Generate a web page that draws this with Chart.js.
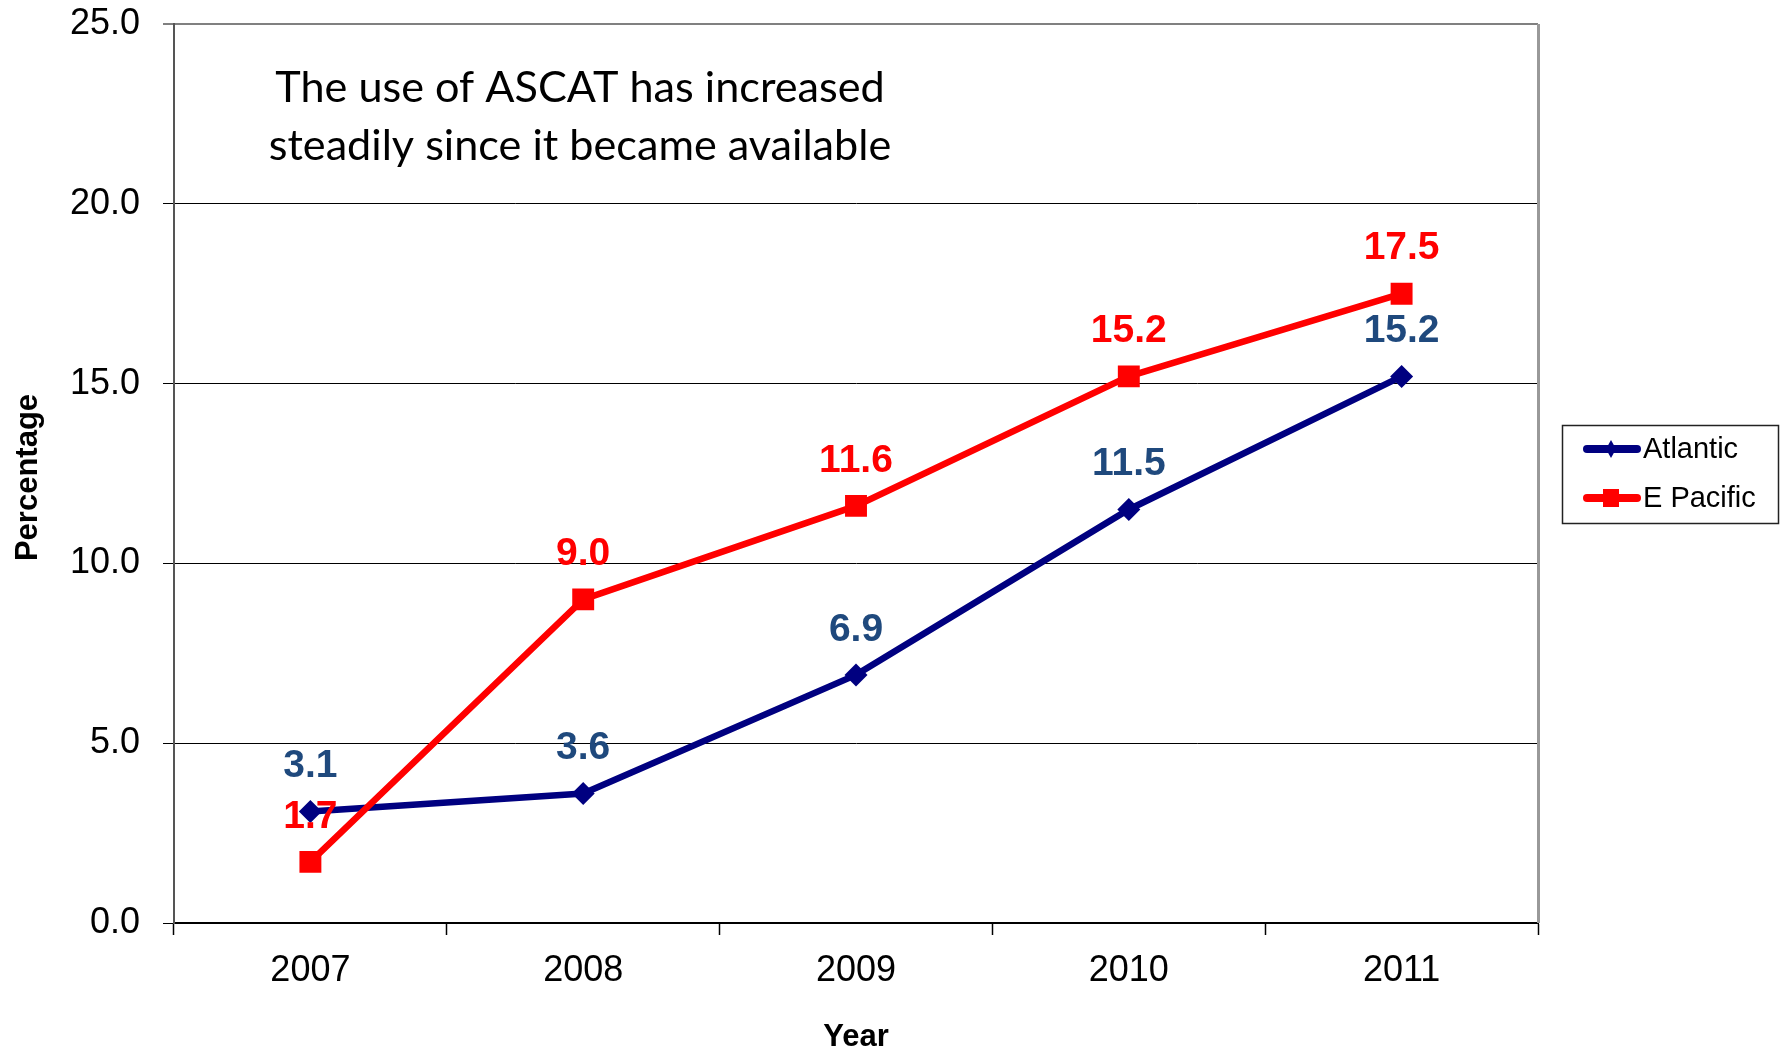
<!DOCTYPE html>
<html><head><meta charset="utf-8">
<script src="https://cdn.jsdelivr.net/npm/chart.js@4.4.0/dist/chart.umd.min.js"></script>
<style>html,body{margin:0;padding:0;background:#fff;overflow:hidden}</style>
</head><body>
<canvas id="c" width="1783" height="1049"></canvas>
<script>
const years = ['2007', '2008', '2009', '2010', '2011'];
const atlantic = [3.1, 3.6, 6.9, 11.5, 15.2];
const ePacific = [1.7, 9.0, 11.6, 15.2, 17.5];
const yTickValues = [0, 5, 10, 15, 20, 25];
const seriesNames = ['Atlantic', 'E Pacific'];
const annotationLines = ['The use of ASCAT has increased', 'steadily since it became available'];
const xTitle = 'Year';
const yTitle = 'Percentage';

const SANS = '"Liberation Sans", Arial, sans-serif';
const lineColors = ['#000080', '#FF0000'];
const labelColors = ['#1F497D', '#FF0000'];

const decor = {
  id: 'decor',
  afterDatasetsDraw(chart) {
    const ctx = chart.ctx;
    ctx.save();
    ctx.font = 'bold 39px ' + SANS;
    ctx.textAlign = 'center';
    ctx.textBaseline = 'middle';
    chart.data.datasets.forEach((ds, i) => {
      const meta = chart.getDatasetMeta(i);
      ctx.fillStyle = labelColors[i];
      meta.data.forEach((pt, j) => {
        ctx.fillText(ds.data[j].toFixed(1), pt.x, pt.y - 45);
      });
    });
    ctx.restore();
  },
  afterDraw(chart) {
    const ctx = chart.ctx;
    const a = chart.chartArea;
    ctx.save();
    // plot area right border
    ctx.strokeStyle = '#999999';
    ctx.lineWidth = 3;
    ctx.beginPath();
    ctx.moveTo(a.right + 0.5, a.top);
    ctx.lineTo(a.right + 0.5, a.bottom);
    ctx.stroke();

    // annotation text
    ctx.fillStyle = '#000';
    ctx.textAlign = 'center';
    ctx.textBaseline = 'alphabetic';
    ctx.font = '100px Lato, "Open Sans", sans-serif';
    const w1 = ctx.measureText(annotationLines[0]).width;
    const size = 100 * 610 / w1;
    ctx.font = size.toFixed(1) + 'px Lato, "Open Sans", sans-serif';
    ctx.fillText(annotationLines[0], 580, 102);
    ctx.fillText(annotationLines[1], 580, 160);

    // axis titles
    ctx.font = 'bold 31px ' + SANS;
    ctx.fillText(xTitle, (a.left + a.right) / 2, 1046);
    ctx.save();
    ctx.translate(37, (a.top + a.bottom) / 2 + 4);
    ctx.rotate(-Math.PI / 2);
    ctx.fillText(yTitle, 0, 0);
    ctx.restore();

    // legend
    const lx = 1562, ly = 425, lw = 216, lh = 98;
    ctx.strokeStyle = '#222';
    ctx.lineWidth = 1.5;
    ctx.strokeRect(lx + 0.5, ly + 0.5, lw, lh);
    const rows = [449, 498];
    chart.data.datasets.forEach((ds, i) => {
      const y = rows[i];
      ctx.strokeStyle = lineColors[i];
      ctx.lineWidth = 8;
      ctx.lineCap = 'round';
      ctx.beginPath();
      ctx.moveTo(1587, y);
      ctx.lineTo(1637, y);
      ctx.stroke();
      ctx.fillStyle = lineColors[i];
      if (i === 0) {
        ctx.beginPath();
        ctx.moveTo(1611, y - 9);
        ctx.lineTo(1616, y);
        ctx.lineTo(1611, y + 9);
        ctx.lineTo(1606, y);
        ctx.closePath();
        ctx.fill();
      } else {
        ctx.fillRect(1603, y - 9, 16, 18);
      }
      ctx.fillStyle = '#000';
      ctx.textAlign = 'left';
      ctx.textBaseline = 'middle';
      ctx.font = '29px ' + SANS;
      ctx.fillText(ds.label, 1643, y + 1);
    });
    ctx.restore();
  }
};

new Chart(document.getElementById('c'), {
  type: 'line',
  data: {
    labels: years,
    datasets: [
      {
        label: seriesNames[0], data: atlantic, order: 1,
        borderColor: lineColors[0], backgroundColor: lineColors[0],
        borderWidth: 6.5, pointStyle: 'rectRot', pointRadius: 11.5, pointHoverRadius: 11.5,
        pointBorderWidth: 0, tension: 0, fill: false
      },
      {
        label: seriesNames[1], data: ePacific, order: 0,
        borderColor: lineColors[1], backgroundColor: lineColors[1],
        borderWidth: 6.5, pointStyle: 'rect', pointRadius: 15.5, pointHoverRadius: 15.5,
        pointBorderWidth: 0, tension: 0, fill: false
      }
    ]
  },
  options: {
    responsive: false,
    animation: false,
    devicePixelRatio: 1,
    events: [],
    layout: { padding: { left: 0, top: 24, right: 245, bottom: 0 } },
    plugins: { legend: { display: false }, tooltip: { enabled: false }, title: { display: false } },
    scales: {
      x: {
        type: 'category',
        offset: true,
        afterFit(s) { s.height = 126; s.paddingLeft = 0; s.paddingRight = 0; },
        grid: {
          offset: true, drawOnChartArea: false, drawTicks: true,
          tickLength: 12, tickColor: '#000', tickWidth: 1.5
        },
        border: { display: true, color: '#000', width: 2 },
        ticks: { color: '#000', font: { family: SANS, size: 36 }, padding: 14, maxRotation: 0 }
      },
      y: {
        min: 0, max: 25,
        afterFit(s) { s.width = 174; s.paddingTop = 0; s.paddingBottom = 0; },
        afterBuildTicks(s) { s.ticks = yTickValues.map(v => ({ value: v })); },
        grid: {
          color: (c) => (c.tick && c.tick.value === 25) ? '#808080' : '#000',
          lineWidth: (c) => (c.tick && c.tick.value === 25) ? 2 : 1,
          tickLength: 11, tickColor: '#000', tickWidth: 1
        },
        border: { display: true, color: '#555', width: 2 },
        ticks: {
          color: '#000', font: { family: SANS, size: 36 }, padding: 23,
          callback: (v) => Number(v).toFixed(1)
        }
      }
    }
  },
  plugins: [decor]
});
</script>
</body></html>
